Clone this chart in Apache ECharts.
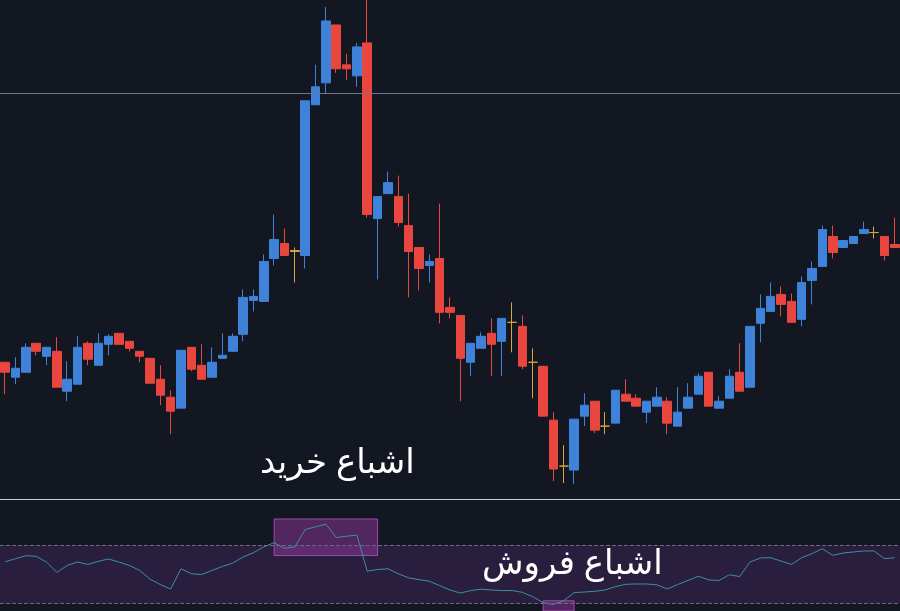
<!DOCTYPE html>
<html>
<head>
<meta charset="utf-8">
<script src="https://cdn.jsdelivr.net/npm/echarts@6/dist/echarts.min.js"></script>
<style>html,body{margin:0;padding:0;background:#131722}#chart{width:900px;height:611px}</style>
</head>
<body>
<div id="chart"></div>
<script>
//Candle data: [open, close, low, high]
const candles = [
	[137,127,105,137],[122,131,115,142],[127,152,127,156],[156,148,144,156],[143,152,134,152],
	[148,112,112,162],[108,120,98,138],[115,152,115,163],[156,140,134,158],[134,156,134,166],
	[155,163,144,165],[166,155,155,166],[158,151,148,158],[148,143,137,148],[141,116,116,141],
	[120,104,94,134],[102,88,65,109],[91,149,91,149],[152,130,128,152],[134,120,120,155],
	[122,137,122,152],[141,144,141,166],[148,163,148,166],[165,202,158,210],[199,203,188,210],
	[198,238,198,245],[241,260,234,285],[256,244,244,271],[249,248,217,252],[244,399,231,399],
	[395,413,395,435],[417,479,407,493],[475,431,427,475],[435,431,420,446],[424,453,413,457],
	[457,285,282,500],[281,303,220,303],[306,317,306,328],[303,277,273,324],[274,248,202,306],
	[252,231,209,252],[234,238,217,245],[241,187,176,296],[192,187,181,202],[184,141,98,184],
	[137,156,123,156],[151,163,151,167],[166,155,123,181],[158,181,123,181],[177,177,147,197],
	[173,133,130,184],[137,137,101,151],[133,83,83,133],[79,30,18,87],[33,33,16,54],
	[29,80,15,80],[83,94,73,106],[98,69,66,98],[73,73,65,87],[76,109,76,109],
	[105,98,98,120],[101,93,93,105],[87,98,76,98],[93,102,93,112],[98,76,65,102],
	[73,87,73,112],[91,102,91,116],[105,123,105,126],[127,93,93,127],[91,98,91,103],
	[101,123,101,130],[127,108,108,156],[112,173,112,173],[176,191,157,205],[188,203,188,217],
	[205,195,183,213],[198,177,177,206],[180,217,173,223],[219,231,195,238],[233,270,233,274],
	[263,247,241,274],[252,259,252,259],[256,263,256,263],[266,270,266,278],[267,267,261,273],
	[263,244,239,263],[255,252,252,282]
];
const doji_indices = [28, 49, 51, 54, 58, 84];
const rsi_values = [
	58.7,60.8,62.9,62.4,58.5,51.4,56.2,58.5,56.9,59,60.6,58.5,56.2,52.8,46.8,43.1,40.1,53.9,50.5,50,
	52.8,55.5,57.8,62,64.9,68.9,71.8,67.9,68.9,80.8,82.6,84.5,75.3,76.2,76.9,52.3,53.4,53.9,50.5,47.7,
	46.5,45.4,42.4,39.4,37.3,39,39.9,39.4,39,39,37.8,34.8,30.7,29.5,32,37.6,38,38.5,39.4,41.7,
	43.3,43.5,43.5,42.9,40.1,43.1,45.9,48.8,46.3,45.9,49.8,48.6,58.5,61.3,61.5,59.2,56.9,61.5,64.3,67.7,
	63.1,64.7,65.4,66.1,66.1,60.8,61.5
];
const resistance_level = 407;
const rsi_upper = 70;
const rsi_lower = 30;
const categories = candles.map((c, i) => String(i + 1));

let chart = echarts.init(document.getElementById("chart"));
let candle_data = candles.map((local_value, i) => {
	if (doji_indices.includes(i))
		return { value: local_value, itemStyle: { color: "#d9a53a", color0: "#d9a53a", borderColor: "#d9a53a", borderColor0: "#d9a53a" } };
	return local_value;
});

chart.setOption({
	backgroundColor: "#131722",
	animation: false,
	grid: [
		{ left: 0, right: 0, top: 0, height: 499 },
		{ left: 0, right: 0, top: 500, height: 111 }
	],
	xAxis: [
		{ type: "category", data: categories, gridIndex: 0, axisLabel: { show: false }, axisTick: { show: false },
			axisLine: { lineStyle: { color: "#c8ccd4", width: 1 } } },
		{ type: "category", data: categories, gridIndex: 1, axisLabel: { show: false }, axisTick: { show: false },
			axisLine: { show: false } }
	],
	yAxis: [
		{ type: "value", gridIndex: 0, min: 0, max: 500, show: false, splitLine: { show: false } },
		{ type: "value", gridIndex: 1, min: 25, max: 101, show: false, splitLine: { show: false } }
	],
	series: [
		{
			type: "candlestick", xAxisIndex: 0, yAxisIndex: 0, barWidth: 9, data: candle_data,
			itemStyle: { color: "#3f82d9", color0: "#e8463e", borderColor: "#3f82d9", borderColor0: "#e8463e", borderWidth: 1 },
			markLine: {
				symbol: "none", silent: true, label: { show: false },
				lineStyle: { color: "#6a7890", type: "solid", width: 1 },
				data: [{ yAxis: resistance_level }]
			}
		},
		{
			type: "line", xAxisIndex: 1, yAxisIndex: 1, data: rsi_values, symbol: "none",
			lineStyle: { color: "#3f8f9c", width: 1 },
			markLine: {
				symbol: "none", silent: true, label: { show: false },
				lineStyle: { color: "#6d6880", type: "dashed", width: 1 },
				data: [{ yAxis: rsi_upper }, { yAxis: rsi_lower }]
			},
			markArea: {
				silent: true,
				data: [
					[{ yAxis: rsi_lower, itemStyle: { color: "rgba(110,50,150,0.25)" } }, { yAxis: rsi_upper }],
					[{ xAxis: "27", yAxis: 88, itemStyle: { color: "rgba(160,60,170,0.45)", borderColor: "#9c4aa8", borderWidth: 1 } }, { xAxis: "37", yAxis: 63 }],
					[{ xAxis: "53", yAxis: 32, itemStyle: { color: "rgba(160,60,170,0.45)", borderColor: "#9c4aa8", borderWidth: 1 } }, { xAxis: "56", yAxis: 24 }]
				]
			}
		}
	],
	graphic: [
		{ type: "text", z: 100, left: 260, top: 446, style: { text: "اشباع خرید", fill: "#ffffff", font: "500 34px 'Noto Sans', 'DejaVu Sans', sans-serif" } },
		{ type: "text", z: 100, left: 482, top: 547, style: { text: "اشباع فروش", fill: "#ffffff", font: "500 34px 'Noto Sans', 'DejaVu Sans', sans-serif" } }
	]
});
</script>
</body>
</html>
